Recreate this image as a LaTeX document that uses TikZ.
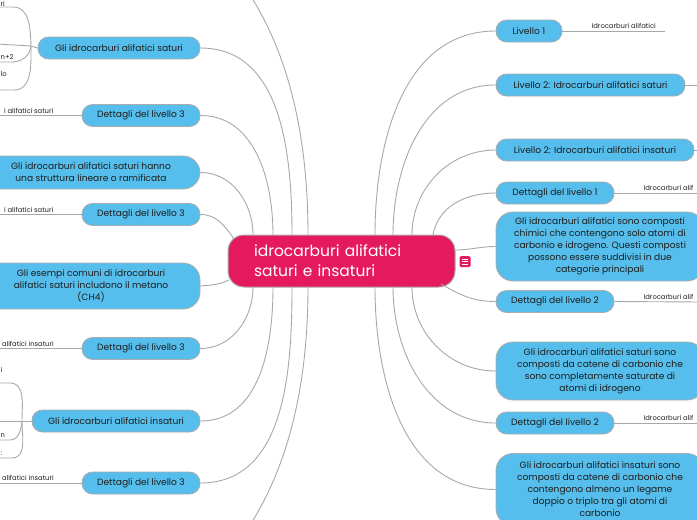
\documentclass[tikz,border=0pt]{standalone}
\usepackage{fontspec}
\setmainfont{Poppins}
\definecolor{skyblue}{RGB}{86,190,236}
\definecolor{bordergray}{RGB}{172,172,172}
\definecolor{linegray}{RGB}{168,168,168}
\definecolor{mmpink}{RGB}{229,25,94}
\definecolor{darktext}{RGB}{30,30,30}
\begin{document}
\begin{tikzpicture}[x=1pt,y=1pt,
  conn/.style={draw=linegray, line width=0.9pt},
  bnode/.style={draw=bordergray, line width=0.8pt, fill=skyblue, rounded corners=10.5pt,
     minimum height=22pt, inner sep=0pt, text=darktext,
     font=\fontsize{9.1}{12}\selectfont, align=center},
  bignode/.style={bnode, rounded corners=17pt},
  lbl/.style={font=\fontsize{6.8}{8}\selectfont, inner sep=0.5pt, text=darktext},
  centernode/.style={draw=bordergray, line width=1pt, fill=mmpink, rounded corners=16pt,
     minimum width=227pt, minimum height=52pt, inner sep=0pt, text=white,
     text width=175pt, align=left, font=\fontsize{15.5}{20}\selectfont},
  iconbox/.style={fill=mmpink, rounded corners=1.5pt, minimum size=11pt, inner sep=0pt}
]
\useasboundingbox (0,0) rectangle (697,-520);
\clip (0,0) rectangle (697,-520);

% ---------- anchors on the central node ----------
\coordinate (tL0) at (308,-235);
\coordinate (tL1) at (292,-235);
\coordinate (tL2) at (273,-235);
\coordinate (tL3) at (253,-235);
\coordinate (tL4) at (234,-239);
\coordinate (sL5) at (229,-280);
\coordinate (bL6) at (253,-287);
\coordinate (bL7) at (273,-287);
\coordinate (bL8) at (292,-287);
\coordinate (bL9) at (308,-287);
\coordinate (tR1) at (375,-235);
\coordinate (tR2) at (393,-235);
\coordinate (tR3) at (412,-235);
\coordinate (tR4) at (433,-235);
\coordinate (sR5) at (455,-250);
\coordinate (bR6) at (441,-284);
\coordinate (bR7) at (412,-287);
\coordinate (bR8) at (393,-287);
\coordinate (bR9) at (375,-287);
\coordinate (offT) at (250,5);
\coordinate (offB) at (250,-525);

% ---------- connectors to nodes outside the picture ----------
\draw[conn] (tL0) .. controls (308,-120) and (282,-45) .. (offT);
\draw[conn] (bL9) .. controls (308,-400) and (282,-475) .. (offB);

% ---------- nodes ----------
\node[centernode] (C) at (341.5,-261) {idrocarburi alifatici\\saturi e insaturi};
\node[iconbox] (ic) at (465,-261.5) {};
\draw[white, line width=0.8pt] ([shift={(-3,2.6)}]ic.center) -- ++(6,0)
  ([shift={(-3,0)}]ic.center) -- ++(6,0) ([shift={(-3,-2.6)}]ic.center) -- ++(6,0);

% right side
\node[bnode, minimum width=66pt] (R1) at (529,-31) {Livello 1};
\node[bnode, minimum width=189pt] (R2) at (590.5,-85) {Livello 2: Idrocarburi alifatici saturi};
\node[bnode, minimum width=198pt] (R3) at (595,-150) {Livello 2: Idrocarburi alifatici insaturi};
\node[bnode, minimum width=118pt] (R4) at (555,-193) {Dettagli del livello 1};
\node[bignode, minimum width=208pt, minimum height=69pt] (R5) at (600,-246.5)
  {Gli idrocarburi alifatici sono composti\\chimici che contengono solo atomi di\\carbonio e idrogeno. Questi composti\\possono essere suddivisi in due\\categorie principali};
\node[bnode, minimum width=118pt] (R6) at (555,-301.5) {Dettagli del livello 2};
\node[bignode, minimum width=208pt, minimum height=58pt] (R7) at (600,-371)
  {Gli idrocarburi alifatici saturi sono\\composti da catene di carbonio che\\sono completamente saturate di\\atomi di idrogeno};
\node[bnode, minimum width=118pt] (R8) at (555,-423) {Dettagli del livello 2};
\node[bignode, minimum width=208pt, minimum height=72pt] (R9) at (600,-489.5)
  {Gli idrocarburi alifatici insaturi sono\\composti da catene di carbonio che\\contengono almeno un legame\\doppio o triplo tra gli atomi di\\carbonio};

% left side
\node[bnode, minimum width=162pt] (L1) at (119,-48) {Gli idrocarburi alifatici saturi};
\node[bnode, minimum width=118pt] (L2) at (141,-115.5) {Dettagli del livello 3};
\node[bignode, minimum width=218pt, minimum height=33pt] (L3) at (91,-172.5)
  {Gli idrocarburi alifatici saturi hanno\\una struttura lineare o ramificata};
\node[bnode, minimum width=118pt] (L4) at (141,-214.5) {Dettagli del livello 3};
\node[bignode, minimum width=218pt, minimum height=46pt] (L5) at (91,-286)
  {Gli esempi comuni di idrocarburi\\alifatici saturi includono il metano\\(CH4)};
\node[bnode, minimum width=118pt] (L6) at (141,-348.5) {Dettagli del livello 3};
\node[bnode, minimum width=168pt] (L7) at (116,-421) {Gli idrocarburi alifatici insaturi};
\node[bnode, minimum width=118pt] (L8) at (141,-483) {Dettagli del livello 3};

% ---------- connectors centre -> nodes ----------
\draw[conn] (L1.east) to[out=0,in=90] (tL1);
\draw[conn] (L2.east) to[out=0,in=90] (tL2);
\draw[conn] (L3.east) to[out=0,in=90] (tL3);
\draw[conn] (L4.east) to[out=0,in=125] (tL4);
\draw[conn] (L5.east) to[out=5,in=205] (sL5);
\draw[conn] (L6.east) to[out=0,in=-90] (bL6);
\draw[conn] (L7.east) to[out=0,in=-90] (bL7);
\draw[conn] (L8.east) to[out=0,in=-90] (bL8);
\draw[conn] (tR1) to[out=90,in=180] (R1.west);
\draw[conn] (tR2) to[out=90,in=180] (R2.west);
\draw[conn] (tR3) to[out=90,in=180] (R3.west);
\draw[conn] (tR4) to[out=80,in=180] (R4.west);
\draw[conn] (sR5) to[out=0,in=180] (R5.west);
\draw[conn] (bR6) to[out=-30,in=180] (R6.west);
\draw[conn] (bR7) to[out=-90,in=180] (R7.west);
\draw[conn] (bR8) to[out=-90,in=180] (R8.west);
\draw[conn] (bR9) to[out=-90,in=180] (R9.west);

% ---------- right children lines and labels ----------
\coordinate (e1) at (665,-31);
\coordinate (e2) at (700,-85);
\coordinate (e3) at (700,-150);
\coordinate (e4) at (700,-193);
\coordinate (e6) at (700,-302);
\coordinate (e8) at (700,-423);
\draw[conn] (R1.east) -- (e1);
\draw[conn] (R2.east) -- (e2);
\draw[conn] (R3.east) -- (e3);
\draw[conn] (R4.east) -- (e4);
\draw[conn] (R6.east) -- (e6);
\draw[conn] (R8.east) -- (e8);
\node[lbl, anchor=south west] (t1) at (591,-29.5) {Idrocarburi alifatici};
\node[lbl, anchor=south west] (t4) at (643,-191.5) {Idrocarburi alif};
\node[lbl, anchor=south west] (t6) at (643,-300.5) {Idrocarburi alif};
\node[lbl, anchor=south west] (t8) at (643,-421.5) {Idrocarburi alif};

% ---------- left children lines and labels ----------
\coordinate (f2) at (-3,-115.5);
\coordinate (f4) at (-3,-214.5);
\coordinate (f6) at (-3,-348.5);
\coordinate (f8) at (-3,-483);
\draw[conn] (L2.west) -- (f2);
\draw[conn] (L4.west) -- (f4);
\draw[conn] (L6.west) -- (f6);
\draw[conn] (L8.west) -- (f8);
\node[lbl, anchor=south east] (u2) at (54,-114) {i alifatici saturi};
\node[lbl, anchor=south east] (u4) at (54,-213) {i alifatici saturi};
\node[lbl, anchor=south east] (u6) at (54.5,-347) {alifatici insaturi};
\node[lbl, anchor=south east] (u8) at (54.5,-481.5) {alifatici insaturi};

% branch of L1
\coordinate (B1) at (31,-46);
\coordinate (k1) at (-3,-7);
\coordinate (k2) at (-3,-44);
\coordinate (k3) at (-3,-62);
\coordinate (k4) at (-3,-90);
\draw[conn] (L1.west) -- (B1);
\draw[conn] (B1) to[out=92,in=0] (13,-7) -- (k1);
\draw[conn] (B1) -- (k2);
\draw[conn] (B1) to[out=-95,in=0] (12,-62) -- (k3);
\draw[conn] (B1) to[out=-90,in=0] (14,-90) -- (k4);
\node[lbl, anchor=south west] (v1) at (0,-7) {ri};
\node[lbl, anchor=south west] (v3) at (0,-60) {n+2};
\node[lbl, anchor=west] (v4) at (0,-74) {lo};

% branch of L7
\coordinate (B7) at (22,-421);
\coordinate (m1) at (-3,-383);
\coordinate (m2) at (-3,-421);
\coordinate (m3) at (-3,-440);
\coordinate (m4) at (-3,-458);
\draw[conn] (L7.west) -- (m2);
\draw[conn] (B7) to[out=90,in=0] (10,-383) -- (m1);
\draw[conn] (B7) to[out=-95,in=0] (10,-440) -- (m3);
\draw[conn] (B7) to[out=-90,in=0] (12,-458) -- (m4);
\node[lbl, anchor=south west] (w1) at (0,-373) {i};
\node[lbl, anchor=south west] (w3) at (0,-438.5) {n};
\node[lbl, anchor=south west] (w4) at (0,-456.5) {:};
\end{tikzpicture}
\end{document}
